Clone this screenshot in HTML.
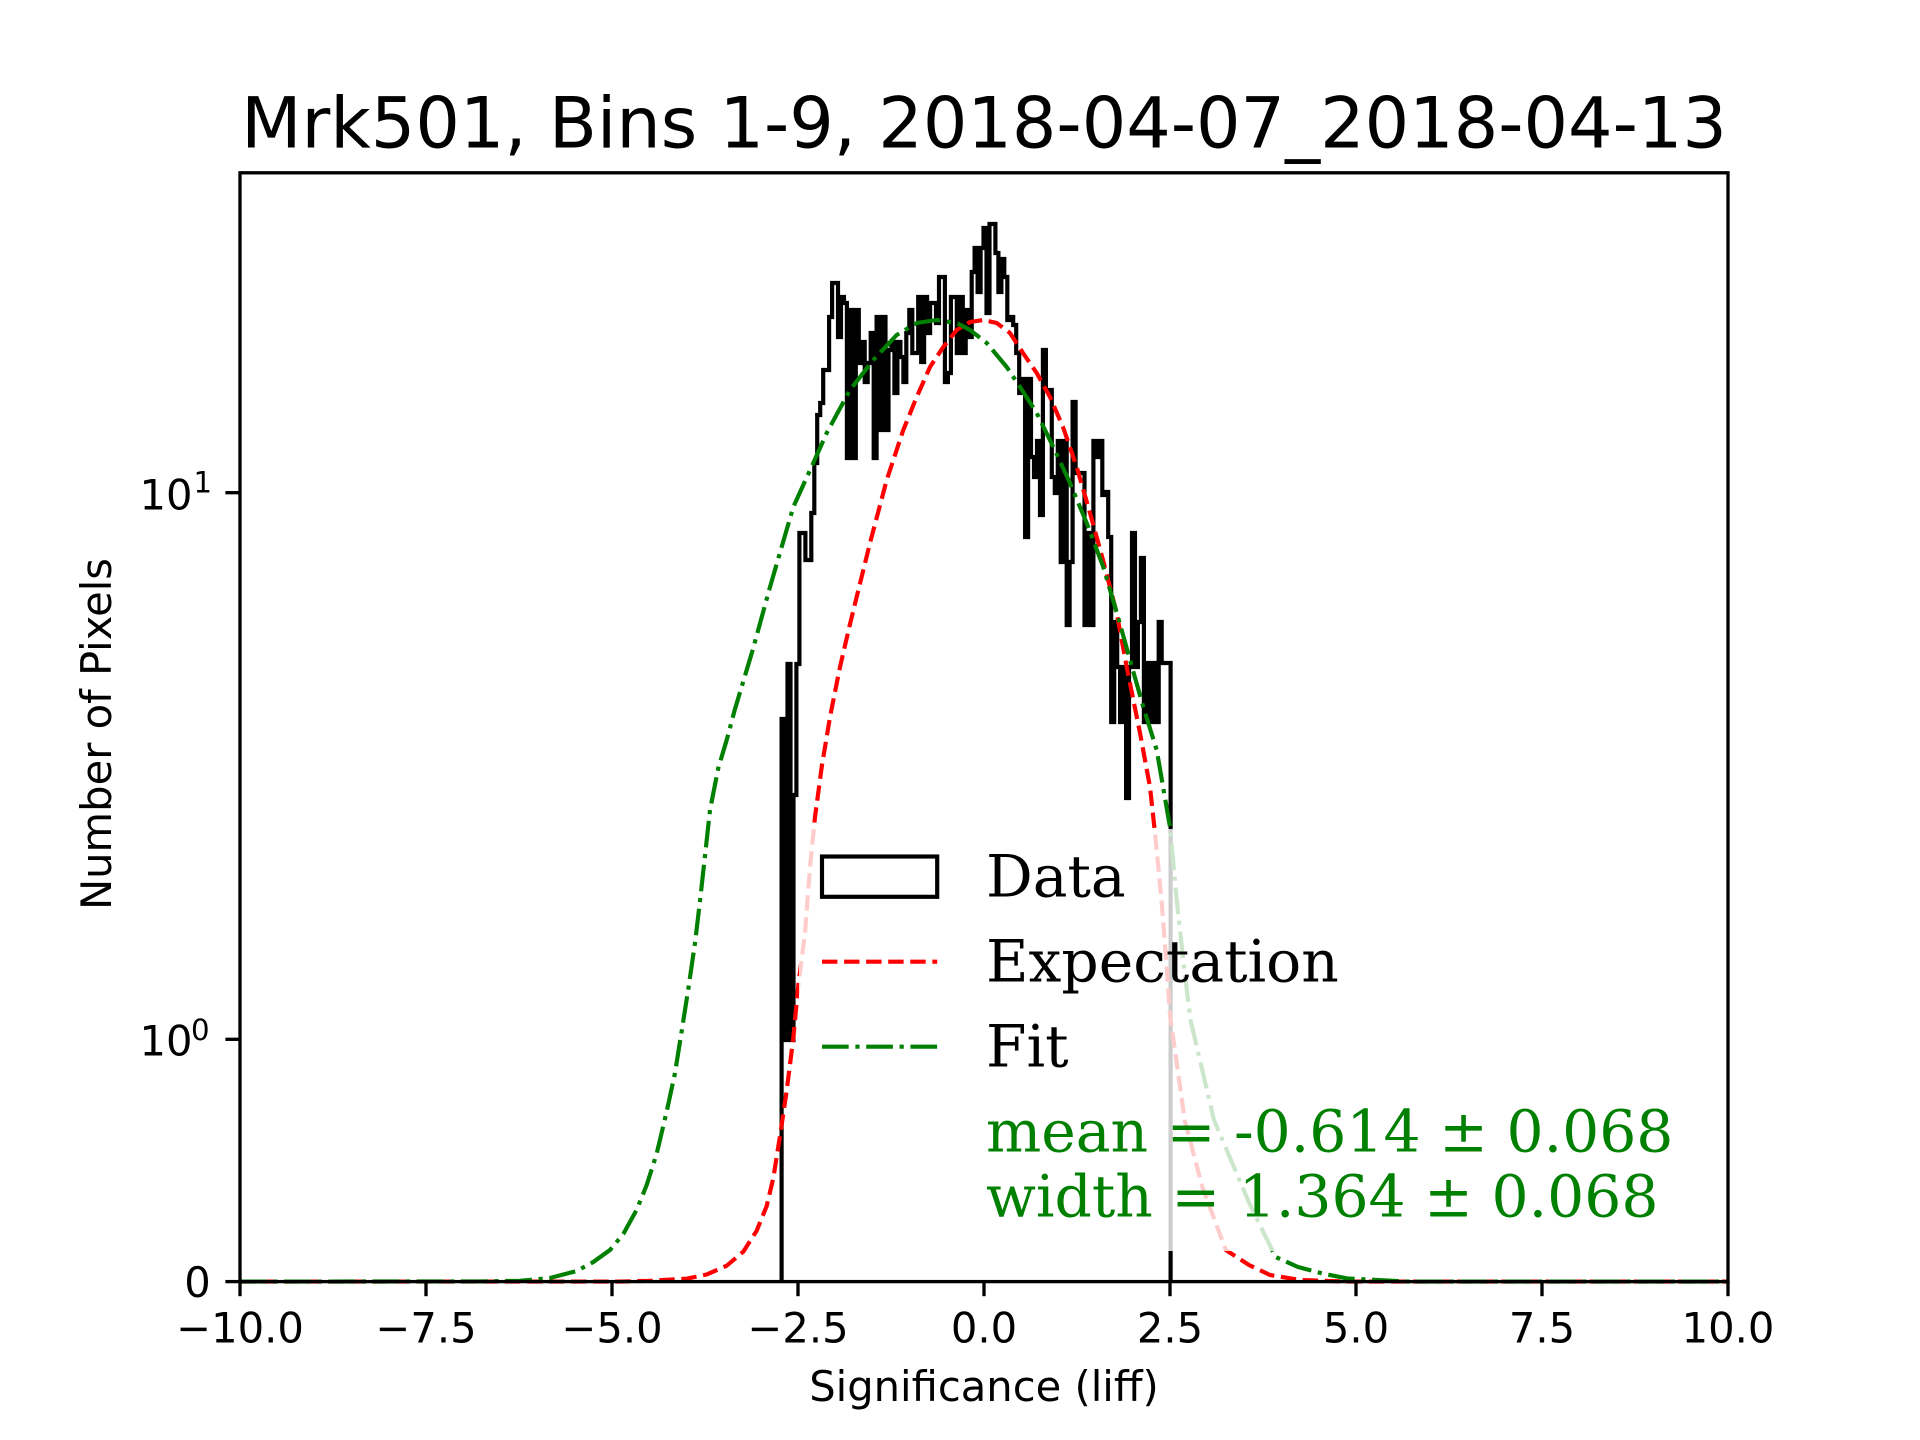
<!DOCTYPE html>
<html>
<head>
<meta charset="utf-8">
<style>
html,body{margin:0;padding:0;background:#ffffff;width:1920px;height:1440px;overflow:hidden}
svg{display:block}
</style>
</head>
<body>
<svg width="1920" height="1440" viewBox="0 0 1920 1440" xmlns="http://www.w3.org/2000/svg">
<rect x="0" y="0" width="1920" height="1440" fill="#ffffff"/>

<!-- Title -->
<text x="984" y="147.7" text-anchor="middle" font-family="'DejaVu Sans','Liberation Sans',sans-serif" font-size="70" fill="#000">Mrk501, Bins 1-9, 2018-04-07_2018-04-13</text>

<!-- Histogram (step) -->
<path fill="none" stroke="#000" stroke-width="4.17" stroke-linejoin="miter" d="M781.6 1281.6 V719 H784.6 V1040 H787.5 V664 H790.5 V1040 H793.5 V795 H796.4 V664 H799.4 V533 H805.4 V560 H811.3 V513 H814.3 V463 H817.2 V415 H820.2 V403 H823.2 V370 H829.1 V317 H832.1 V283 H838.0 V337 H841.0 V297 H844.0 V303 H846.9 V458 H849.9 V310 H852.9 V458 H855.8 V310 H858.8 V363 H861.8 V342 H864.7 V382 H867.7 V363 H870.7 V333 H873.7 V458 H876.6 V317 H879.6 V430 H882.6 V317 H885.5 V430 H888.5 V350 H891.5 V342 H894.4 V393 H897.4 V342 H900.4 V357 H903.4 V382 H906.3 V333 H909.3 V310 H912.3 V353 H918.2 V297 H921.2 V362 H924.1 V297 H927.1 V333 H930.1 V303 H936.0 V323 H939.0 V277 H944.9 V382 H947.9 V373 H950.9 V297 H956.8 V353 H959.8 V297 H962.8 V353 H965.7 V310 H968.7 V337 H971.7 V272 H974.6 V248 H977.6 V292 H980.6 V248 H983.5 V228 H986.5 V313 H989.5 V224 H995.4 V253 H998.4 V292 H1001.4 V259 H1004.3 V277 H1007.3 V320 H1010.3 V317 H1013.2 V325 H1016.2 V353 H1019.2 V393 H1022.1 V379 H1025.1 V537 H1028.1 V379 H1031.0 V457 H1034.0 V477 H1037.0 V441 H1040.0 V515 H1042.9 V350 H1045.9 V390 H1051.8 V477 H1054.8 V493 H1057.8 V441 H1060.7 V562 H1063.7 V441 H1066.7 V625 H1069.6 V562 H1072.6 V402 H1075.6 V473 H1084.5 V625 H1087.5 V533 H1090.4 V625 H1093.4 V441 H1096.4 V457 H1099.3 V441 H1102.3 V495 H1105.3 V492 H1108.2 V537 H1111.2 V722 H1114.2 V622 H1117.2 V667 H1120.1 V722 H1123.1 V667 H1126.1 V798 H1129.0 V667 H1132.0 V533 H1135.0 V667 H1137.9 V622 H1140.9 V558 H1143.9 V722 H1146.8 V663 H1149.8 V722 H1152.8 V663 H1155.8 V722 H1158.7 V622 H1161.7 V663 H1170.6 V1281.6"/>

<!-- Expectation (red dashed) -->
<polyline fill="none" stroke="#ff0000" stroke-width="4.17" stroke-dasharray="15.4 6.67" stroke-linejoin="round"
points="240,1281.6 620,1281.6 650,1280.8 686.7,1278.7 706.7,1274.5 726.7,1265.7 743.3,1251.7 756.7,1230.7 766.7,1206 773.3,1178 780,1136 786.7,1090.5 793.3,1038 798.3,985.4 805,933 810,867 815,817 821.7,767 830,717 840,667 850,624 870,543 886.7,480 903.3,430 916.7,397 930,367 943.3,347 956.7,330 970,322 983.3,320 996.7,323 1010,333 1023,353 1036.7,373 1050,397 1063,427 1076.7,467 1090,513 1103,560 1116.7,613 1126.7,667 1140,733 1150,787 1155,833 1161.5,900 1166.7,967 1170,1015 1177,1065 1184.7,1120 1202.3,1187 1225.8,1250 1249,1265 1270,1275 1300,1280 1347,1281.6 1728,1281.6"/>

<!-- Fit (green dash-dot) -->
<polyline fill="none" stroke="#008000" stroke-width="4.17" stroke-dasharray="26.7 6.67 4.17 6.67" stroke-linejoin="round"
points="240,1281.6 480,1281.4 520,1280.8 550,1278 576.7,1271 593.3,1262 610,1250 623.3,1234 636.7,1209.7 646.7,1185 656.7,1153.6 666.7,1111.5 675,1073 681.7,1031 688.3,989 695,943 700,901 705,855.7 710,810 718.3,768 726.7,740 734.7,710 753,649 770,587 793.3,507 813.3,463 826.7,433 850,390 873.3,360 896.7,335 916.7,323 936.7,320 956.7,323 970,330 986.7,343 1006.7,367 1020,387 1036.7,413 1053.3,447 1070,483 1086.7,523 1103.3,567 1118.3,618 1130,660 1143.3,707 1156.7,750 1170,827 1176.7,900 1184,967 1190.5,1020 1214,1120 1249.2,1203 1275.6,1257 1298,1267 1322.5,1273.5 1347,1278.4 1408,1281.6 1728,1281.6"/>

<!-- Axes spines -->
<rect x="240" y="172.8" width="1488" height="1108.8" fill="none" stroke="#000" stroke-width="3.33"/>

<!-- X ticks -->
<g stroke="#000" stroke-width="3.33">
<line x1="240" y1="1281.6" x2="240" y2="1296.2"/>
<line x1="426" y1="1281.6" x2="426" y2="1296.2"/>
<line x1="612" y1="1281.6" x2="612" y2="1296.2"/>
<line x1="798" y1="1281.6" x2="798" y2="1296.2"/>
<line x1="984" y1="1281.6" x2="984" y2="1296.2"/>
<line x1="1170" y1="1281.6" x2="1170" y2="1296.2"/>
<line x1="1356" y1="1281.6" x2="1356" y2="1296.2"/>
<line x1="1542" y1="1281.6" x2="1542" y2="1296.2"/>
<line x1="1728" y1="1281.6" x2="1728" y2="1296.2"/>
<!-- Y ticks -->
<line x1="225.4" y1="1281.6" x2="240" y2="1281.6"/>
<line x1="225.4" y1="1039.3" x2="240" y2="1039.3"/>
<line x1="225.4" y1="492.7" x2="240" y2="492.7"/>
</g>

<!-- X tick labels -->
<g font-family="'DejaVu Sans','Liberation Sans',sans-serif" font-size="41.67" fill="#000" text-anchor="middle">
<text x="240" y="1342.5">−10.0</text>
<text x="426" y="1342.5">−7.5</text>
<text x="612" y="1342.5">−5.0</text>
<text x="798" y="1342.5">−2.5</text>
<text x="984" y="1342.5">0.0</text>
<text x="1170" y="1342.5">2.5</text>
<text x="1356" y="1342.5">5.0</text>
<text x="1542" y="1342.5">7.5</text>
<text x="1728" y="1342.5">10.0</text>
</g>

<!-- Y tick labels -->
<g font-family="'DejaVu Sans','Liberation Sans',sans-serif" font-size="41.67" fill="#000">
<text x="210.8" y="1297" text-anchor="end">0</text>
<text x="139.5" y="1055.5">10<tspan font-size="29.2" dx="-1.5" dy="-15.3">0</tspan></text>
<text x="139.5" y="509.5">10<tspan font-size="29.2" dx="1" dy="-17.2">1</tspan></text>
</g>

<!-- Axis labels -->
<text x="984" y="1401" text-anchor="middle" font-family="'DejaVu Sans','Liberation Sans',sans-serif" font-size="41.67" fill="#000">Significance (liff)</text>
<text transform="translate(111,734) rotate(-90)" text-anchor="middle" font-family="'DejaVu Sans','Liberation Sans',sans-serif" font-size="41.67" fill="#000">Number of Pixels</text>

<!-- Legend -->
<rect x="799" y="829" width="900" height="422" fill="#ffffff" fill-opacity="0.8" stroke="none"/>
<rect x="822" y="856.5" width="115.2" height="40.3" fill="none" stroke="#000" stroke-width="4.17"/>
<line x1="822" y1="961.7" x2="937.2" y2="961.7" stroke="#ff0000" stroke-width="4.17" stroke-dasharray="15.4 6.67"/>
<line x1="822" y1="1046.7" x2="937.2" y2="1046.7" stroke="#008000" stroke-width="4.17" stroke-dasharray="26.7 6.67 4.17 6.67"/>
<g font-family="'DejaVu Serif','Liberation Serif',serif" font-size="58.3">
<text x="986" y="896.7" fill="#000">Data</text>
<text x="986" y="981.7" fill="#000">Expectation</text>
<text x="986" y="1066.7" fill="#000">Fit</text>
<text x="986" y="1151.7" fill="#008000">mean = -0.614 ± 0.068</text>
<text x="986" y="1216.7" fill="#008000">width = 1.364 ± 0.068</text>
</g>
</svg>
</body>
</html>
